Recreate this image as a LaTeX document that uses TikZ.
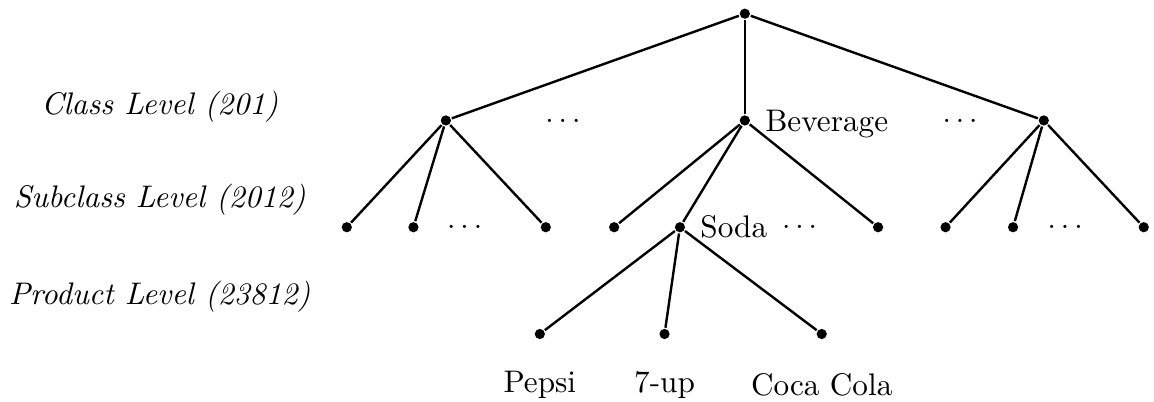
\documentclass[tikz,border=0pt]{standalone}
\usetikzlibrary{positioning}
\begin{document}
\fontsize{10.4}{12.5}\selectfont
\begin{tikzpicture}
	[dot/.style={circle,fill,inner sep=0pt,minimum size=3.4pt},
	 levellabel/.style={font=\itshape,anchor=center},
	 leaflabel/.style={below=6mm,anchor=center},
	 thick]
\useasboundingbox (-8.72,0.16) rectangle (4.79,-4.54);
% level names on the left
\node[levellabel] (lc) at (-6.85,-1.09) {Class Level (201)};
\node[levellabel] (ls) at (-6.85,-2.18) {Subclass Level (2012)};
\node[levellabel] (lp) at (-6.85,-3.31) {Product Level (23812)};
% root and classes
\node[dot] (r) at (0,0) {};
\node[dot] (c1) at (-3.5,-1.25) {};
\node[dot] (c2) at (0,-1.25) {};
\node[dot] (c3) at (3.5,-1.25) {};
\node[right=0.3mm of c2,text depth=0pt] (bev) {Beverage};
\node (d1) at (-2.13,-1.25) {$\ldots$};
\node (d2) at (2.52,-1.25) {$\ldots$};
% subclasses
\path (-4.66,-2.5) node[dot] (s1) {}
(-3.88,-2.5) node[dot] (s2) {}
(-2.33,-2.5) node[dot] (s3) {}
(-1.53,-2.5) node[dot] (s4) {}
(-0.76,-2.5) node[dot] (s5) {}
(1.56,-2.5) node[dot] (s6) {}
(2.35,-2.5) node[dot] (s7) {}
(3.14,-2.5) node[dot] (s8) {}
(4.67,-2.5) node[dot] (s9) {};
\node[right=0.3mm of s5] (soda) {Soda};
\node (d3) at (-3.28,-2.5) {$\ldots$};
\node (d4) at (0.64,-2.5) {$\ldots$};
\node (d5) at (3.75,-2.5) {$\ldots$};
% products
\path (-2.40,-3.75) node[dot] (p1) {} node[leaflabel] {Pepsi}
(-0.94,-3.75) node[dot] (p2) {} node[leaflabel] {7-up}
(0.90,-3.75) node[dot] (p3) {} node[leaflabel] {Coca Cola};
% edges
\foreach \n in {c1,c2,c3}
\draw (r) -- (\n);
\foreach \n in {s1,s2,s3}
\draw (c1) -- (\n);
\foreach \n in {s4,s5,s6}
\draw (c2) -- (\n);
\foreach \n in {s7,s8,s9}
\draw (c3) -- (\n);
\foreach \n in {p1,p2,p3}
\draw (s5) -- (\n);
\end{tikzpicture}
\end{document}
